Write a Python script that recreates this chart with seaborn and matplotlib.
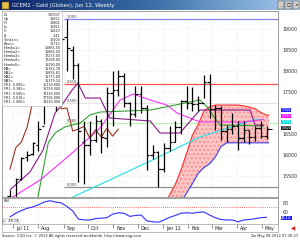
import numpy as np
import pandas as pd
import matplotlib
matplotlib.use("Agg")
import matplotlib.pyplot as plt
import matplotlib.transforms as mtransforms
from matplotlib.patches import Rectangle
from matplotlib.colors import LinearSegmentedColormap
import seaborn as sns

sns.set_style("white")
plt.rcParams['font.family'] = ['DejaVu Sans']

# ---------------- data ----------------
weeks = list(range(46))
opens = [15020, 14870, 15420, 15950, 16020, 16250, 16700, 17450, 18550, 18280,
         18800, 18500, 18140, 16300, 16240, 16360, 16820, 16400, 17480, 17540,
         17880, 17240, 16970, 17460, 17120, 15990, 16060, 15660, 16170, 16310,
         16660, 17280, 17250, 17220, 17250, 17750, 17100, 17120, 16570, 16620,
         16680, 16400, 16600, 16430, 16640, 16450]
highs = [15160, 15450, 15960, 16100, 16320, 16810, 18130, 18800, 19170, 18800,
         19230, 18600, 18200, 16800, 16800, 16950, 16850, 17610, 18000, 18030,
         17950, 17270, 17650, 17640, 17200, 16250, 16100, 16280, 16700, 16800,
         17300, 17640, 17630, 17400, 17900, 17920, 17200, 17170, 16720, 17000,
         16820, 16800, 16600, 16680, 16800, 16700]
lows = [14780, 14830, 15400, 15850, 16000, 16100, 16750, 17450, 17050, 18100,
        18000, 17800, 15350, 15320, 16000, 16320, 16040, 16200, 16700, 17400,
        17150, 16700, 16900, 17000, 15640, 15900, 15230, 15600, 16100, 16300,
        16500, 17100, 17050, 17050, 17350, 16880, 16600, 16360, 16300, 16500,
        16120, 16300, 16260, 16340, 16400, 16380]
closes = [15000, 15420, 15940, 16010, 16280, 16630, 17450, 18520, 18280, 18760,
          18560, 18140, 16580, 16240, 16360, 16820, 16420, 17480, 17540, 17880,
          17240, 16970, 17460, 17120, 15990, 16060, 15660, 16170, 16310, 16660,
          17280, 17250, 17220, 17250, 17750, 17100, 17120, 16570, 16620, 16680,
          16400, 16600, 16430, 16640, 16450, 16620]

purple_wk = [0, 3.5, 5.8, 7.9, 9.1, 10.9, 11.9, 13.2, 15.8, 17.5, 24.6, 26.3, 29.8, 33.3, 42.1, 43.0, 44.5]
purple_val = [15170, 15595, 16119, 17000, 17190, 17548, 17714, 17357, 17357, 16881, 16810, 16524, 16524, 17071, 17071, 16714, 16714]

magenta_wk = [0.5, 5.3, 10.5, 15.8, 19.3, 21.6, 24.6, 27.5, 29.3, 33.3, 40.9, 44.5]
magenta_val = [15000, 15405, 16000, 16643, 17310, 17452, 17310, 17190, 17000, 16786, 16786, 16845]

green_wk = [4.9, 6.7, 7.9, 9.6, 12.3, 14.0, 15.8, 24.6, 33.3, 34.6, 36.8, 44.5]
green_val = [15000, 16286, 16524, 16667, 16762, 16952, 17024, 17071, 17310, 17143, 16714, 16690]

cyan_wk = [11.0, 17.5, 24.6, 33.3, 42.6, 44.5]
cyan_val = [15000, 15405, 15857, 16429, 16833, 16850]

cloud_wk = list(range(26, 46)) + [45.4]
cloud_upper = [14600, 14800, 15050, 15300, 15650, 16050, 16480, 16720, 17050, 17150,
               17190, 17190, 17190, 17190, 17190, 17170, 17140, 17100, 17010, 16950, 16950]
cloud_lower = [14300, 14400, 14550, 14700, 14880, 15100, 15320, 15560, 15700, 15790,
               15950, 16200, 16290, 16290, 16290, 16290, 16290, 16290, 16290, 16290, 16290]

fib_start_wk = 10
fib_levels = [0.000, 0.382, 0.500, 0.618, 1.000]
fib_low, fib_high = 15230, 19230

rsi = [49, 57, 63, 68, 71, 76, 82, 85, 82, 80, 72, 62, 44, 42, 42, 45, 46, 47, 55, 58,
       57, 50, 52, 53, 40, 38, 37, 42, 48, 52, 57, 58, 57, 59, 60, 53, 47, 43, 42, 42,
       38, 42, 43, 45, 47, 48]
rsi_last = "48.14"

month_labels = ["Jul 11", "Aug", "Sep", "Oct", "Nov", "Dec", "Jan 12", "Feb", "Mar", "Apr", "May"]
month_pos = [0.57, 5.0, 9.43, 13.71, 18.14, 22.43, 26.86, 31.29, 35.43, 39.86, 44.14]

price_ticks = [15500, 16000, 16500, 17000, 17500, 18000, 18500, 19000]
price_labels = ["15500", "16000", "16500", "", "17500", "18000", "18500", "19000"]
badge_vals = [17070, 16930, 16790, 16650]
badge_texts = ["17024", "16845", "16786", "16620"]
badge_colors = ["#2020ff", "#ff00ff", "#00d8d8", "#202020"]

info_rows = [("Dt", "120507"), ("Op", "16652"), ("Hi", "16802"), ("Lo", "16451"),
             ("Cl", "16620"), ("\u0394", "-141"), ("Tenkan=", "16503"), ("Kijun=", "16713"),
             ("Ichmku1=", "16865.50"), ("Ichmku2=", "16865.50"), ("Ichmku3=", "17273.00"),
             ("Ichmku4=", "17208.00"), ("Ichmku5=", "16290.00"), ("MA=", "16762.78"),
             ("MA1=", "16655.81"), ("MA2=", "16773.00"), ("MA3=", "16179.14"),
             ("FR1: 0.000=", "15230.000"), ("FR1: 0.382=", "16758.000"),
             ("FR1: 0.500=", "17230.000"), ("FR1: 0.618=", "17702.000"),
             ("FR1: 1.000=", "19230.000")]

# ---------------- figure ----------------
W, H = 300, 240
fig = plt.figure(figsize=(3.0, 2.4), dpi=100, facecolor="white")

def fx(px):
    return px / W

def fy(py):
    return 1 - py / H

XMIN, XMAX = -1.4, 47.0

# title bar
tax = fig.add_axes([0, fy(10), 1, 10 / H])
cmap = LinearSegmentedColormap.from_list("tb", ["#0a246a", "#3a6ea5", "#a6caf0"])
tax.imshow(np.linspace(0, 1, 256)[None, :], aspect="auto", cmap=cmap, extent=[0, 1, 0, 1])
tax.set_axis_off()
tax.text(0.04, 0.5, "GCEM2 - Gold (Globex), Jun 12, Weekly", color="white",
         fontsize=3.8, va="center", ha="left")
tax.add_patch(Rectangle((0.005, 0.15), 0.025, 0.7, facecolor="#e8c040", edgecolor="#604000", lw=0.3))
for i, sym in enumerate(["_", "\u25a1", "\u00d7"]):
    x0 = 0.925 + i * 0.025
    tax.add_patch(Rectangle((x0, 0.12), 0.022, 0.76, facecolor="#d4d0c8", edgecolor="#404040", lw=0.3))
    tax.text(x0 + 0.011, 0.5, sym, fontsize=3.2, ha="center", va="center", color="black")

# main price panel
ax = fig.add_axes([fx(2), fy(197), 276 / W, 186 / H])
ax.set_xlim(XMIN, XMAX)
ax.set_ylim(15000, 19430)
for y in price_ticks:
    ax.axhline(y, color="#c8c8c8", lw=0.4, ls=(0, (1, 3)), zorder=0)
for xm in month_pos:
    ax.axvline(xm, color="#c8c8c8", lw=0.4, ls=(0, (1, 3)), zorder=0)

# fibonacci lines
fib_colors = {0.000: "#909090", 0.382: "#b8f0b0", 0.500: "#d8d8d8", 0.618: "#ff5050", 1.000: "#8080ff"}
for lv in fib_levels:
    p = fib_low + lv * (fib_high - fib_low)
    ax.hlines(p, fib_start_wk - 0.5, XMAX, color=fib_colors[lv], lw=0.9 if lv != 0.5 else 0.5, zorder=1)
    ax.text(fib_start_wk, p, f"{lv:.3f}", fontsize=2.6, color="#404040", va="bottom", ha="left", zorder=2)

# cloud
ax.fill_between(cloud_wk, cloud_lower, cloud_upper, facecolor="#f9c6c6", edgecolor="#ff9090",
                hatch="....", lw=0, zorder=1)
sns.lineplot(x=cloud_wk, y=cloud_upper, ax=ax, color="#ff2a2a", lw=0.8, zorder=3)
sns.lineplot(x=cloud_wk, y=cloud_lower, ax=ax, color="#3c3cff", lw=0.8, zorder=3)

# moving average lines
sns.lineplot(x=cyan_wk, y=cyan_val, ax=ax, color="#20e0e8", lw=0.8, zorder=3)
sns.lineplot(x=magenta_wk, y=magenta_val, ax=ax, color="#ff30ff", lw=0.8, zorder=3)
sns.lineplot(x=green_wk, y=green_val, ax=ax, color="#30a030", lw=0.8, zorder=3)
sns.lineplot(x=purple_wk, y=purple_val, ax=ax, color="#8a1a8a", lw=0.8, zorder=3)
# lagging span: closes shifted 26 weeks back
lag_x = [w - 26 for w in weeks[26:]]
sns.lineplot(x=lag_x, y=closes[26:], ax=ax, color="#a03020", lw=0.8, zorder=3)

# OHLC bars
wk = np.array(weeks, dtype=float)
ax.vlines(wk, lows, highs, color="black", lw=0.9, zorder=4)
ax.hlines(opens, wk - 0.45, wk, color="black", lw=0.9, zorder=4)
ax.hlines(closes, wk, wk + 0.45, color="black", lw=0.9, zorder=4)
ax.hlines(closes[-1], wk[-1], wk[-1] + 1.0, color="black", lw=0.7, zorder=4)

ax.yaxis.tick_right()
ax.set_yticks(price_ticks)
ax.set_yticklabels(price_labels, fontsize=3.4, color="#303030")
ax.tick_params(axis="y", length=0, pad=3)
ax.set_xticks([])
ax.set_xlabel("")
ax.set_ylabel("")
for s in ax.spines.values():
    s.set_color("#909090")
    s.set_linewidth(0.6)

trans = mtransforms.blended_transform_factory(ax.transAxes, ax.transData)
for val, txt, col in zip(badge_vals, badge_texts, badge_colors):
    ax.text(1.012, val, txt, transform=trans, fontsize=2.2, color="white", va="center", ha="left",
            bbox=dict(facecolor=col, edgecolor="none", pad=0.1), clip_on=False, zorder=6)

# info box
ax.add_patch(Rectangle((0, 0.49), 0.218, 0.51, transform=ax.transAxes, facecolor="white",
                       edgecolor="#b0b0b0", lw=0.4, zorder=5))
n = len(info_rows)
for i, (lab, val) in enumerate(info_rows):
    yy = 0.99 - i * (0.49 / n)
    ax.text(0.006, yy, lab, transform=ax.transAxes, fontsize=2.4, va="top", ha="left",
            color="#202020", zorder=6)
    ax.text(0.212, yy, val, transform=ax.transAxes, fontsize=2.4, va="top", ha="right",
            color="#202020", zorder=6)

# lower RSI panel
ax2 = fig.add_axes([fx(2), fy(224), 276 / W, 26 / H])
ax2.set_xlim(XMIN, XMAX)
ax2.set_ylim(33, 91)
for xm in month_pos:
    ax2.axvline(xm, color="#c8c8c8", lw=0.4, ls=(0, (1, 3)), zorder=0)
ax2.axhline(72, color="#ff4040", lw=0.6, ls=(0, (1, 1.5)), zorder=1)
sns.lineplot(x=weeks, y=rsi, ax=ax2, color="#3030ff", lw=0.8, zorder=3)
ax2.yaxis.tick_right()
ax2.set_yticks([60, 80])
ax2.set_yticklabels(["60", "80"], fontsize=3.4, color="#303030")
ax2.tick_params(axis="y", length=0, pad=3)
ax2.set_xticks([])
ax2.set_xlabel("")
ax2.set_ylabel("")
for s in ax2.spines.values():
    s.set_color("#909090")
    s.set_linewidth(0.6)
trans2 = mtransforms.blended_transform_factory(ax2.transAxes, ax2.transData)
ax2.text(1.012, 46, rsi_last, transform=trans2, fontsize=2.6, color="white", va="center",
         ha="left", bbox=dict(facecolor="#2020ff", edgecolor="none", pad=0.2), clip_on=False)
ax2.text(0.005, 0.97, "RSI", transform=ax2.transAxes, fontsize=2.6, va="top", ha="left", color="#202020")
ax2.text(0.005, 0.03, "=  " + rsi_last, transform=ax2.transAxes, fontsize=2.6, va="bottom",
         ha="left", color="#202020", bbox=dict(facecolor="white", edgecolor="#909090", lw=0.3, pad=0.3))

# x-axis date strip
xax = fig.add_axes([fx(2), fy(232), 276 / W, 8 / H])
xax.set_xlim(XMIN, XMAX)
xax.set_ylim(0, 1)
for xm, lab in zip(month_pos, month_labels):
    xax.vlines(xm, 0.55, 1.0, color="#606060", lw=0.5)
    xax.text(xm + 0.5, 0.45, lab, fontsize=3.4, va="center", ha="left", color="#202020")
xax.set_xticks([])
xax.set_yticks([])
for s in xax.spines.values():
    s.set_color("#a0a0a0")
    s.set_linewidth(0.5)

fig.text(fx(2), fy(236.5), "Source: CQG Inc. \u00a9 2012 All rights reserved worldwide. http://www.cqg.com",
         fontsize=2.6, va="center", ha="left", color="#202020")
fig.text(fx(298), fy(236.5), "Tue May 08 2012 07:30:27", fontsize=2.6, va="center", ha="right",
         color="#202020")
fig.text(fx(293), fy(229), "\u25c0", fontsize=4, color="#e02020", va="center", ha="center")

fig.savefig("out.png", dpi=100, facecolor="white")
